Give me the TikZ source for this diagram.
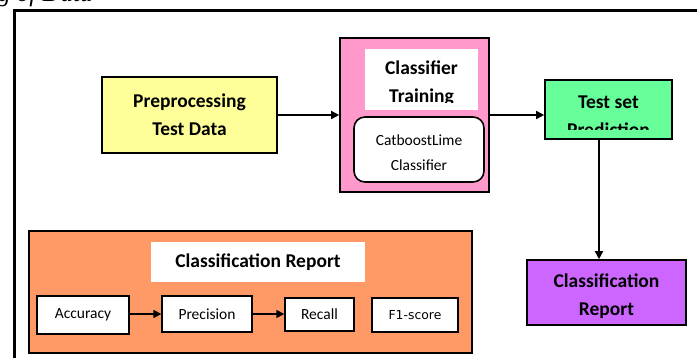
\documentclass[tikz,border=0pt]{standalone}
\usepackage{fontspec}
\setmainfont{Carlito}
\newfontfamily\capfont{Liberation Serif}
\newfontfamily\scorefont{DejaVu Sans}
\usetikzlibrary{arrows.meta}
\definecolor{prepyellow}{HTML}{FFFF99}
\definecolor{trainpink}{HTML}{FF99CC}
\definecolor{testgreen}{HTML}{66FF99}
\definecolor{reportpurple}{HTML}{CC66FF}
\definecolor{reportorange}{HTML}{FF9966}
\tikzset{
  blk/.style={draw, line width=1.6pt, inner sep=0pt, align=center,
    font=\bfseries\fontsize{19.5}{28}\selectfont},
  metric/.style={draw, fill=white, line width=1.3pt, inner sep=0pt,
    font=\fontsize{15.5}{18}\selectfont},
  arr/.style={line width=1.5pt, -{Triangle[length=8pt,width=8pt]}},
}
\begin{document}
\begin{tikzpicture}[x=1pt,y=-1pt]
    \useasboundingbox (0,0) rectangle (697,358);
    \clip (0,0) rectangle (697,358);
    % Bildunterschrift (angeschnitten)
    \node[anchor=base west, inner sep=0pt,
      font=\capfont\itshape\fontsize{25}{25}\selectfont] (cap) at (-2,1.5) {g of Data};
    % Rahmen
    \draw[line width=3pt] (14,380) -- (14,10.5) -- (720,10.5);
    % Vorverarbeitung
    \node[blk, fill=prepyellow, minimum width=175pt, minimum height=76pt]
      (prep) at (189.5,115) {Preprocessing\\Test Data};
    % Training
    \node[draw, line width=1.6pt, fill=trainpink, minimum width=149pt,
      minimum height=154pt] (train) at (414.5,115) {};
    \node[fill=white, minimum width=113pt, minimum height=61pt]
      (traintitle) at (421.5,79.5) {};
    \begin{scope}
      \clip (365,49) rectangle (478,102.5);
      \node[blk, draw=none] (traintext) at (421.5,83) {Classifier\\Training};
    \end{scope}
    \node[draw, fill=white, line width=1.6pt, rounded corners=11pt,
      minimum width=130pt, minimum height=65pt, align=center,
      font=\fontsize{15.5}{25}\selectfont] (cat) at (419,149.5)
      {\rule{0pt}{17pt}CatboostLime\\Classifier};
    % Vorhersage
    \node[draw, line width=1.6pt, fill=testgreen, minimum width=127pt,
      minimum height=59pt] (test) at (608.5,109.5) {};
    \begin{scope}
      \clip (547,82) rectangle (671,130);
      \node[blk, draw=none] (testtext) at (608.5,116) {Test set\\Prediction};
    \end{scope}
    % Bericht
    \node[blk, fill=reportpurple, minimum width=159pt, minimum height=65pt]
      (report) at (606.5,292.5) {\rule{0pt}{22pt}Classification\\Report};
    % Kennzahlen
    \node[draw, line width=1.6pt, fill=reportorange, minimum width=443pt,
      minimum height=122pt] (metrics) at (250.5,292) {};
    \node[blk, draw=none, fill=white, minimum width=214pt, minimum height=40pt]
      (metricstitle) at (258,262) {Classification Report};
    \node[metric, minimum width=92pt, minimum height=38pt] (acc) at (83,315) {Accuracy};
    \node[metric, minimum width=90pt, minimum height=36pt] (prec) at (207,314) {Precision};
    \node[metric, minimum width=69pt, minimum height=33pt] (rec) at (319.5,314.5) {Recall};
    \node[metric, minimum width=86pt, minimum height=34pt,
      font=\scorefont\fontsize{12.4}{15}\selectfont] (f1) at (415,315) {F1-score};
    % Pfeile
    \draw[arr] (prep) -- (train);
    \draw[arr] (train.east) -- (train.east -| test.west);
    \draw[arr] ([xshift=-9.5pt]test.south) -- ([xshift=-9.5pt]test.south |- report.north);
    \draw[arr, line width=1.3pt] (acc.east |- prec) -- (prec);
    \draw[arr, line width=1.3pt] (prec) -- (prec -| rec.west);
\end{tikzpicture}
\end{document}
